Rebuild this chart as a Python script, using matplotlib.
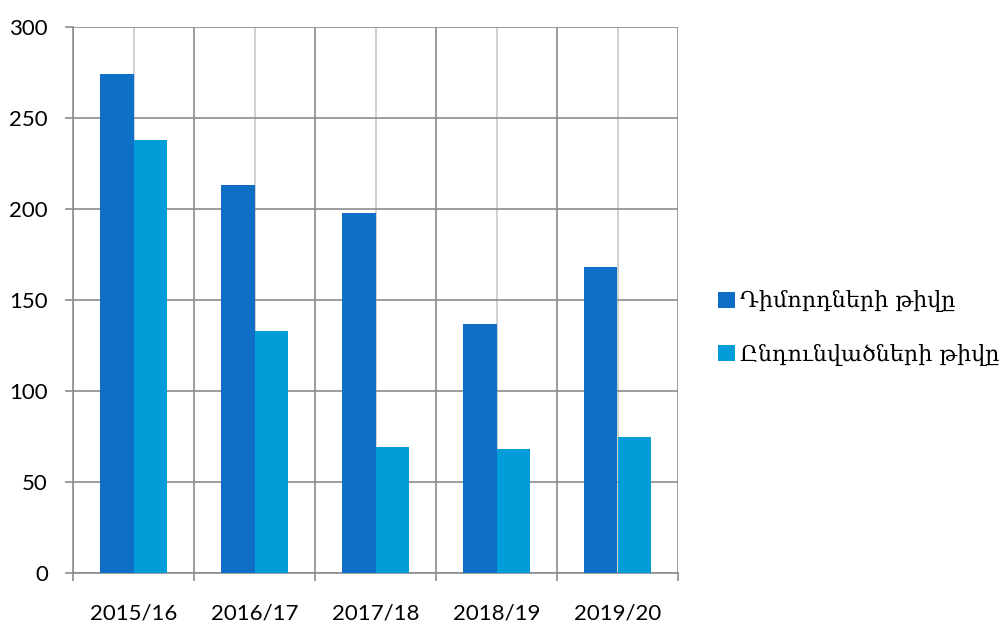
import numpy as np
import matplotlib.pyplot as plt
from matplotlib.patches import Patch

# Data
years = ["2015/16", "2016/17", "2017/18", "2018/19", "2019/20"]
applicants = [274, 213, 198, 137, 168]
admitted = [238, 133, 69, 68, 75]
labels = ["Դիմորդների թիվը", "Ընդունվածների թիվը"]
colors = ["#0F6FC6", "#009DD9"]

fig = plt.figure(figsize=(10.04, 6.24), dpi=100)
ax = fig.add_axes([73 / 1004, 51 / 624, 605 / 1004, 546 / 624])

x = np.arange(len(years))
w = 0.28
ax.bar(x - w / 2, applicants, w, color=colors[0], zorder=3)
ax.bar(x + w / 2, admitted, w, color=colors[1], zorder=3)

ax.set_xlim(-0.5, len(years) - 0.5)
ax.set_ylim(0, 300)
ax.set_yticks(range(0, 301, 50))

# category labels at centres, tick marks and dark gridlines at boundaries
ax.set_xticks(x)
ax.set_xticklabels(years)
ax.set_xticks(np.arange(-0.5, len(years), 1), minor=True)
ax.tick_params(axis="x", which="major", length=0, pad=22)
ax.tick_params(axis="x", which="minor", length=6, color="#8C8C8C", width=1.2)
ax.tick_params(axis="y", length=6, color="#8C8C8C", width=1.2, pad=12)

ax.grid(axis="x", which="major", color="#C8C8C8", linewidth=1.2, zorder=0)
ax.grid(axis="x", which="minor", color="#8C8C8C", linewidth=1.2, zorder=0)
ax.grid(axis="y", which="major", color="#8C8C8C", linewidth=1.2, zorder=0)
ax.set_axisbelow(True)

for s in ["top", "right"]:
    ax.spines[s].set_visible(False)
for s in ["left", "bottom"]:
    ax.spines[s].set_color("#8C8C8C")
    ax.spines[s].set_linewidth(1.2)

for lab in ax.get_xticklabels() + ax.get_yticklabels():
    lab.set_fontfamily("Lato")
    lab.set_fontsize(16)
    lab.set_color("black")

handles = [Patch(facecolor=c) for c in colors]
fig.legend(handles, labels, loc="center left", bbox_to_anchor=(718 / 1004, 1 - 328 / 624),
           frameon=False, prop={"family": "DejaVu Serif", "size": 16},
           handlelength=0.75, handleheight=0.75, handletextpad=0.25, labelspacing=1.4,
           borderaxespad=0, borderpad=0)

fig.savefig("out.png", dpi=100)
